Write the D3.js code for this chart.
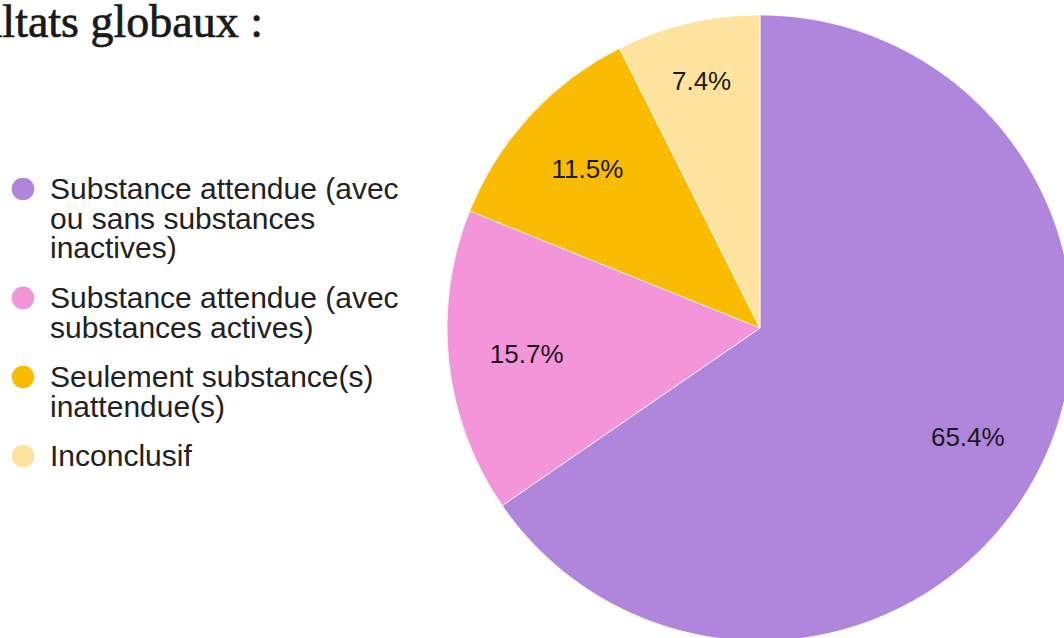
<!DOCTYPE html>
<html>
<head>
<meta charset="utf-8">
<script src="https://cdn.jsdelivr.net/npm/d3@7/dist/d3.min.js"></script>
<style>
html,body{margin:0;padding:0;background:#fff;overflow:hidden;}
svg{display:block;}
</style>
</head>
<body>
<svg id="chart" width="1064" height="638"></svg>
<script>
const title = "Résultats globaux :";
const categories = [
  ["Substance attendue (avec", "ou sans substances", "inactives)"],
  ["Substance attendue (avec", "substances actives)"],
  ["Seulement substance(s)", "inattendue(s)"],
  ["Inconclusif"]
];
const values = [65.4, 15.7, 11.5, 7.4];
const labels = ["65.4%", "15.7%", "11.5%", "7.4%"];
const colors = ["#b085dc", "#f395d8", "#f9bc03", "#fde39d"];

const svg = d3.select("#chart");

// Title (cut off at left like the reference)
svg.append("text")
  .attr("x", 263).attr("y", 37)
  .attr("text-anchor", "end")
  .attr("font-family", "'Liberation Serif', 'DejaVu Serif', serif")
  .attr("font-size", 46)
  .attr("fill", "#1a1a1a")
  .attr("stroke", "#1a1a1a").attr("stroke-width", 0.7)
  .text(title);

// Pie
const cx = 760, cy = 328, R = 313;
const pie = d3.pie().sort(null).value(d => d)(values);
const arc = d3.arc().innerRadius(0).outerRadius(R);
const g = svg.append("g").attr("transform", `translate(${cx},${cy})`);
g.selectAll("path").data(pie).enter().append("path")
  .attr("d", arc)
  .attr("fill", (d, i) => colors[i])
  .attr("stroke", "#fff").attr("stroke-width", 0.7);

g.selectAll("text.lbl").data(pie).enter().append("text")
  .attr("class", "lbl")
  .attr("transform", d => {
    const frac = (d.endAngle - d.startAngle) / (2 * Math.PI);
    const r = frac < 0.1 ? R * 0.81 : R * 0.75;
    const a = (d.startAngle + d.endAngle) / 2;
    return `translate(${r * Math.sin(a)},${-r * Math.cos(a)})`;
  })
  .attr("text-anchor", "middle")
  .attr("dy", "0.35em")
  .attr("font-family", "'Liberation Sans', Arial, sans-serif")
  .attr("font-size", 26)
  .attr("fill", "#1a1a1a")
  .text((d, i) => labels[i]);

// Legend
const lg = svg.append("g");
let y = 199;
categories.forEach((lines, i) => {
  lg.append("circle").attr("cx", 23).attr("cy", y - 10).attr("r", 11.3).attr("fill", colors[i]);
  const t = lg.append("text")
    .attr("font-family", "'Liberation Sans', Arial, sans-serif")
    .attr("font-size", 30)
    .attr("fill", "#222");
  lines.forEach((ln, j) => {
    t.append("tspan").attr("x", 50).attr("y", y + j * 29.7).text(ln);
  });
  y += (lines.length - 1) * 29.7 + 49.5;
});
</script>
</body>
</html>
